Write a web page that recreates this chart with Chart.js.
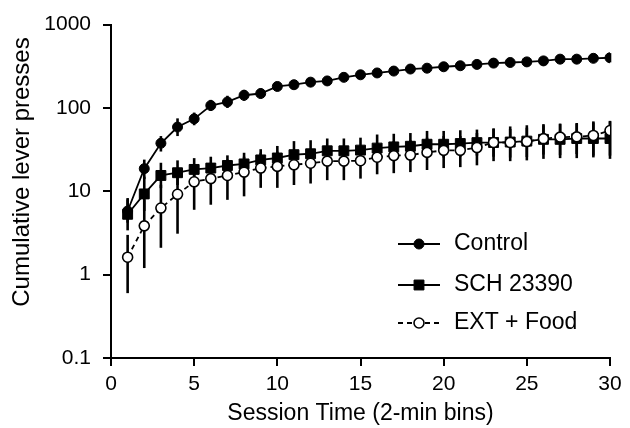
<!DOCTYPE html>
<html>
<head>
<meta charset="utf-8">
<script src="https://cdn.jsdelivr.net/npm/chart.js@4/dist/chart.umd.min.js"></script>
<style>
  html, body { margin: 0; padding: 0; background: #fff; }
  #wrap { width: 630px; height: 428px; }
</style>
</head>
<body>
<div id="wrap"><canvas id="chart" width="630" height="428"></canvas></div>
<script>
// session bins (2-min) (log axis)
const bins = [1,2,3,4,5,6,7,8,9,10,11,12,13,14,15,16,17,18,19,20,21,22,23,24,25,26,27,28,29,30];
const yTicks = [0.1, 1, 10, 100, 1000];
const yTitle = 'Cumulative lever presses';

const control   = [5.8,18.7,37.7,59,74,107,118,142,149,181,190,204,211,233,250,263,277,293,300,312,321,333,345,351,357,367,385,385,394,400];
const controlHi = [8,24,46,75,88,125,140,165,172,205,215,230,240,262,282,296,312,330,338,352,362,376,390,396,403,415,435,435,445,455];
const controlLo = [4.2,14,30,46,62,92,100,122,130,160,168,182,188,208,222,234,246,260,266,277,285,295,305,311,316,325,341,341,349,352];

const sch   = [5.3,9.3,15.5,16.7,18.3,19,20.4,21.3,23.8,25.1,27.5,28.2,30.6,30.6,31.2,33,34.1,34.7,36.7,36.7,37.4,38.4,38.5,39,40,42,42,43,43,43];
const schHi = [8.3,15,22,23.5,25,26,27,29,32,35,40,41,43,43,44,48,49,50,53,53,54,55,57,60,62,64,65,66,69,69];
const schLo = [3.4,5.8,10.9,11.9,13.4,13.9,15.4,15.6,17.7,18,18.9,19.4,21.8,21.8,22.1,22.7,23.7,24.1,25.4,25.4,25.9,26.8,26,25.4,25.8,27.6,27.1,28,26.8,26.8];

const ext   = [1.62,3.85,6.3,9.2,13,14.2,15.5,17,19,19.9,20.8,21.7,23,23,23.3,25.6,26.8,27.2,29.3,31,31,33.5,38.5,38.5,39.5,42.8,44.7,45,46.8,53.6];
const extHi = [3.0,8,12,16,20,22,24,26,29,30,31,32,34,34,35,38,40,41,44,46,46,50,56,56,58,62,64,65,67,70];
const extLo = [0.6,1.2,2.1,3.1,6.0,6.9,7.9,8.7,11,11,11.9,12.4,13.6,13.6,14.2,16,16.5,17,18,19,19.5,20.5,23,23,23.5,24.5,25,25,25.5,24.5];

const FONT = 'Liberation Sans, Arial, Helvetica, sans-serif';

function pts(vals){ return vals.map((v,i)=>({x: bins[i], y: v})); }

// vertical error bars, drawn behind the markers
const errorBars = {
  id: 'errorBars',
  beforeDatasetsDraw(chart){
    const {ctx, scales:{x, y}} = chart;
    ctx.save();
    ctx.strokeStyle = '#000';
    ctx.lineWidth = 2.6;
    chart.data.datasets.forEach(ds=>{
      ds.hi.forEach((h,i)=>{
        const px = x.getPixelForValue(bins[i]);
        ctx.beginPath();
        ctx.moveTo(px, y.getPixelForValue(h));
        ctx.lineTo(px, y.getPixelForValue(ds.lo[i]));
        ctx.stroke();
      });
    });
    ctx.restore();
  }
};

// y title sits a little above the plot centre in the reference
const sideTitle = {
  id: 'sideTitle',
  afterDraw(chart){
    const ctx = chart.ctx;
    ctx.save();
    ctx.translate(22, 172);
    ctx.rotate(-Math.PI/2);
    ctx.fillStyle = '#000';
    ctx.font = '24px ' + FONT;
    ctx.textAlign = 'center';
    ctx.textBaseline = 'middle';
    ctx.fillText(yTitle, 0, 0);
    ctx.restore();
  }
};

// legend inside the plot, lower right
const insideLegend = {
  id: 'insideLegend',
  afterDraw(chart){
    const ctx = chart.ctx;
    const rows = [244, 285, 323];
    ctx.save();
    chart.data.datasets.forEach((ds,i)=>{
      const yy = rows[i];
      ctx.strokeStyle = '#000';
      ctx.lineWidth = 1.8;
      ctx.setLineDash(ds.borderDash || []);
      ctx.beginPath(); ctx.moveTo(398, yy); ctx.lineTo(440, yy); ctx.stroke();
      ctx.setLineDash([]);
      ctx.fillStyle = ds.pointBackgroundColor;
      ctx.lineWidth = ds.pointBorderWidth;
      ctx.beginPath();
      if(ds.pointStyle === 'rect'){
        const s = ds.pointRadius * Math.SQRT1_2;
        ctx.rect(419 - s, yy - s, 2*s, 2*s);
      } else {
        ctx.arc(419, yy, ds.pointRadius, 0, Math.PI*2);
      }
      ctx.fill(); ctx.stroke();
      ctx.fillStyle = '#000';
      ctx.font = '23px ' + FONT;
      ctx.textBaseline = 'middle';
      ctx.textAlign = 'left';
      ctx.fillText(ds.label, 454, yy);
    });
    ctx.restore();
  }
};

new Chart(document.getElementById('chart'), {
  type: 'line',
  data: {
    datasets: [
      { label: 'Control', data: pts(control), hi: controlHi, lo: controlLo,
        borderColor: '#000', borderWidth: 1.8, pointStyle: 'circle', pointRadius: 5,
        pointBackgroundColor: '#000', pointBorderColor: '#000', pointBorderWidth: 1, order: 1 },
      { label: 'SCH 23390', data: pts(sch), hi: schHi, lo: schLo,
        borderColor: '#000', borderWidth: 1.8, pointStyle: 'rect', pointRadius: 7,
        pointBackgroundColor: '#000', pointBorderColor: '#000', pointBorderWidth: 1, order: 2 },
      { label: 'EXT + Food', data: pts(ext), hi: extHi, lo: extLo,
        borderColor: '#000', borderWidth: 1.8, borderDash: [5, 4], pointStyle: 'circle', pointRadius: 5,
        pointBackgroundColor: '#fff', pointBorderColor: '#000', pointBorderWidth: 1.6, order: 0 }
    ]
  },
  options: {
    responsive: false,
    animation: false,
    layout: { padding: { left: 0, right: 20, top: 19, bottom: 0 } },
    plugins: { legend: { display: false }, tooltip: { enabled: false } },
    elements: { line: { tension: 0 } },
    scales: {
      x: {
        type: 'linear', min: 0, max: 30,
        afterFit(s){ s.height = 70; },
        ticks: { stepSize: 5, color: '#000', padding: 6, font: { family: FONT, size: 21 } },
        grid: { drawOnChartArea: false, color: '#000', lineWidth: 2, tickLength: 8 },
        border: { color: '#000', width: 2 },
        title: { display: true, text: 'Session Time (2-min bins)', color: '#000',
                 font: { family: FONT, size: 23 }, padding: { top: 0, bottom: 1 } }
      },
      y: {
        type: 'logarithmic', min: 0.1, max: 1000,
        afterFit(s){ s.width = 111; },
        afterBuildTicks(s){ s.ticks = yTicks.map(v=>({ value: v })); },
        ticks: { color: '#000', padding: 12, font: { family: FONT, size: 21 },
                 callback: v => String(v) },
        grid: { drawOnChartArea: false, color: '#000', lineWidth: 2, tickLength: 8 },
        border: { color: '#000', width: 2 },
        title: { display: false }
      }
    }
  },
  plugins: [errorBars, sideTitle, insideLegend]
});
</script>
</body>
</html>
